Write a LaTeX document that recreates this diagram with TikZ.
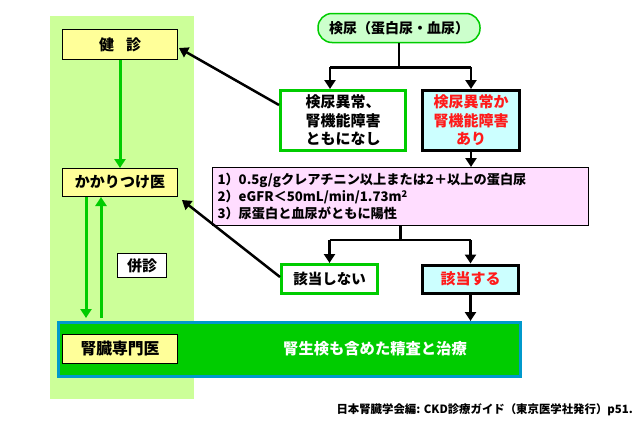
\documentclass[tikz,border=0pt]{standalone}
\usepackage{fontspec}
\setmainfont{Noto Sans CJK JP}
\usetikzlibrary{arrows.meta}
\definecolor{panelg}{HTML}{CCFF99}
\definecolor{yel}{HTML}{FFFF99}
\definecolor{cyanf}{HTML}{CCFFFF}
\definecolor{pinkf}{HTML}{FFDDFF}
\definecolor{grn}{HTML}{00CC00}
\definecolor{topf}{HTML}{CCFFCC}
\definecolor{bluee}{HTML}{0099CC}
\definecolor{redt}{HTML}{FF1A1A}
\tikzset{
  ybox/.style={draw=black, line width=1pt, fill=yel, inner sep=0pt, font=\fontsize{15}{17}\selectfont\bfseries},
  gbox/.style={draw=grn, line width=3pt, fill=white, inner sep=0pt, align=center, font=\fontsize{15}{18.5}\selectfont\bfseries},
  kbox/.style={draw=black, line width=3pt, fill=cyanf, inner sep=0pt, align=center, text=redt, font=\fontsize{15}{18.5}\selectfont\bfseries},
  arr/.style={line width=2.5pt, -{Triangle[width=11pt,length=9pt]}},
  garr/.style={draw=grn, line width=3pt, -{Triangle[width=11pt,length=9pt]}, color=grn},
  conn/.style={line width=2.5pt},
}
\begin{document}
\begin{tikzpicture}[x=1pt,y=-1pt]
\useasboundingbox (0,0) rectangle (640,423);
\fill[white] (0,0) rectangle (640,423);
\fill[panelg] (50,16) rectangle (194,399);
% bar
\node[draw=bluee, line width=3pt, fill=grn, minimum width=462pt, minimum height=54pt, inner sep=0pt] (bar) at (289.5,349.5) {};
\node[text=white, font=\fontsize{15.3}{17}\selectfont\bfseries] (bartext) at (375,349) {腎生検も含めた精査と治療};
% left column
\node[ybox, minimum width=115pt, minimum height=30pt] (kenshin) at (120,44.5) {健\hspace{0.8em}診};
\node[ybox, minimum width=115pt, minimum height=28pt] (kakari) at (120,182.5) {かかりつけ医};
\node[ybox, minimum width=115pt, minimum height=29pt, font=\fontsize{15.8}{17}\selectfont\bfseries] (jinzo) at (120,349) {腎臓専門医};
\node[draw=black, line width=1pt, fill=white, minimum width=49pt, minimum height=24pt, inner sep=0pt, font=\fontsize{15}{17}\selectfont\bfseries] (heishin) at (142,265.5) {併診};
% right flow
\node[draw=grn, line width=1.5pt, fill=topf, rounded corners=14pt, minimum width=162pt, minimum height=29pt, inner sep=0pt, font=\fontsize{14}{16}\selectfont\bfseries] (top) at (399,28) {検尿（蛋白尿・血尿）};
\node[gbox, minimum width=125pt, minimum height=60pt] (nasi) at (343,120.5) {検尿異常、\\腎機能障害\\ともになし};
\node[kbox, minimum width=97pt, minimum height=60pt] (ari) at (471,120.5) {検尿異常か\\腎機能障害\\あり};
\node[draw=black, line width=1pt, fill=pinkf, minimum width=376pt, minimum height=58pt, inner sep=0pt, align=left, text width=366pt, font=\fontsize{13.2}{17}\selectfont\bfseries] (crit) at (400.5,196.5) {1）0.5g/gクレアチニン以上または2＋以上の蛋白尿\\2）eGFR＜50mL/min/1.73m\textsuperscript{2}\\3）尿蛋白と血尿がともに陽性};
\node[gbox, minimum width=96pt, minimum height=29pt, font=\fontsize{14.5}{17}\selectfont\bfseries] (gaitonai) at (329.5,279) {該当しない};
\node[kbox, minimum width=96pt, minimum height=28pt] (gaito) at (470.5,279) {該当する};
% footnote
\node[anchor=east, inner sep=0pt, font=\fontsize{11.4}{13}\selectfont\bfseries] (foot) at (633,410) {日本腎臓学会編: CKD診療ガイド（東京医学社発行）p51.};
% connectors
\draw[conn] (top.south) -- ++(0,24) coordinate (j1);
\draw[conn] ([xshift=-13pt]nasi.north |- j1) -- (ari.north |- j1);
\draw[arr] ([xshift=-13pt]nasi.north |- j1) -- ([xshift=-13pt]nasi.north);
\draw[arr] (ari.north |- j1) -- (ari.north);
\draw[arr] (ari.south) -- (ari.south |- crit.north);
\draw[conn] (crit.south) -- ++(0,14) coordinate (j2);
\draw[conn] (gaitonai.north |- j2) -- (gaito.north |- j2);
\draw[arr] (gaitonai.north |- j2) -- (gaitonai.north);
\draw[arr] (gaito.north |- j2) -- (gaito.north);
\draw[arr] (gaito.south) -- (gaito.south |- bar.north);
\draw[arr] ([yshift=15.5pt]nasi.west) -- ([yshift=-3.5pt,xshift=1pt]kenshin.east);
\draw[arr] ([yshift=2pt]gaitonai.west) -- ([xshift=4pt,yshift=-3pt]kakari.south east);
% green arrows
\draw[garr] (kenshin.south) -- (kakari.north);
\draw[garr] ([xshift=-34pt]kakari.south) -- ([xshift=-34pt,yshift=3pt]kakari.south |- bar.north);
\draw[garr] ([xshift=-19pt,yshift=3pt]kakari.south |- bar.north) -- ([xshift=-19pt]kakari.south);
\end{tikzpicture}
\end{document}
